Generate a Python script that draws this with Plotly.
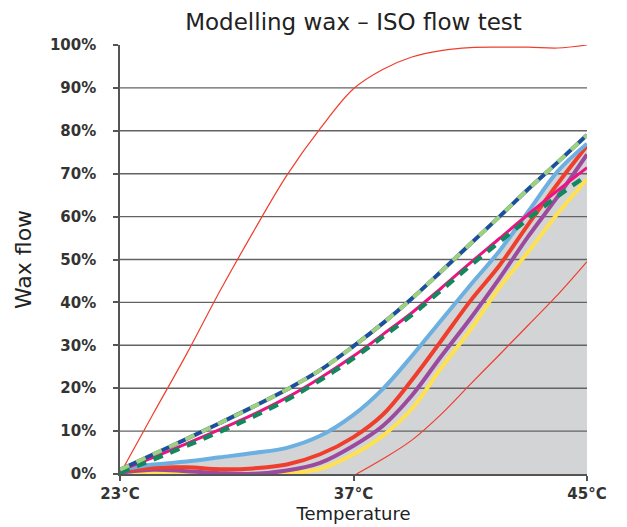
import plotly.graph_objects as go

# ---- data ----
temps = [23, 25, 27, 29, 31, 33, 35, 37, 38, 39, 40, 41, 42, 43, 44, 45]

light_blue = [1.0, 2.2, 2.9, 3.9, 4.9, 6.1, 8.9, 13.8, 19.8, 27.5, 35.8, 44.0, 52.0, 61.3, 70.6, 77.0]
red_thick = [0.7, 1.45, 1.55, 1.1, 1.3, 2.2, 4.6, 8.6, 13.8, 21.9, 31.0, 40.3, 48.6, 58.3, 67.7, 76.5]
purple = [0.3, 1.0, 0.65, 0.2, 0.05, 0.8, 2.6, 6.6, 11.2, 18.3, 27.4, 36.2, 45.6, 55.5, 64.7, 74.5]
yellow = [0.0, 0.4, 0.3, 0.1, 0.0, 0.2, 1.2, 4.6, 8.9, 15.2, 24.7, 33.6, 43.5, 51.9, 60.8, 68.7]
dark_blue = [1.0, 4.6, 8.2, 11.9, 15.7, 19.7, 24.2, 29.8, 35.1, 40.9, 47.2, 53.6, 60.0, 66.5, 72.7, 79.0]
light_green = dark_blue
magenta = [0.8, 3.9, 7.1, 10.4, 13.9, 17.8, 22.4, 27.5, 32.5, 37.6, 43.3, 49.2, 54.9, 60.6, 66.1, 71.4]
dark_green = [0.3, 3.4, 6.6, 9.9, 13.4, 17.3, 21.9, 27.0, 32.0, 37.1, 42.8, 48.6, 54.1, 59.6, 64.8, 69.6]
thin_red_fast = [0, 14.1, 28.0, 42.7, 56.5, 69.6, 80.5, 89.8, 94.3, 97.2, 98.7, 99.4, 99.5, 99.5, 99.3, 100]

temps_late = [37.1, 38, 39, 40, 41, 42, 43, 44, 45]
thin_red_late = [0, 3.5, 7.9, 13.9, 20.9, 27.8, 34.8, 41.8, 49.5]

tick_temps = [23, 37, 45]
tick_text = ["23°C", "37°C", "45°C"]
y_ticks = [0, 10, 20, 30, 40, 50, 60, 70, 80, 90, 100]
grid_vals = [10, 20, 30, 40, 50, 60, 70, 80, 90]


def xpos(t):
    # the temperature axis is drawn with evenly spaced 23 / 37 / 45 marks
    return (t - 23) / 14 if t <= 37 else 1 + (t - 37) / 8


def xs(ts):
    return [xpos(t) for t in ts]


fig = go.Figure()

# grey area under the light-blue curve
fig.add_trace(go.Scatter(x=xs(temps), y=light_blue, mode="lines", line=dict(width=0, shape="spline"),
                         fill="tozeroy", fillcolor="#d3d4d6", hoverinfo="skip", showlegend=False))

# grid lines (drawn above the grey area, below the curves)
gx, gy = [], []
for v in grid_vals:
    gx += [xpos(23), xpos(45), None]
    gy += [v, v, None]
fig.add_trace(go.Scatter(x=gx, y=gy, mode="lines", line=dict(color="#636363", width=1.4),
                         hoverinfo="skip", showlegend=False))


def add_line(ts, vals, color, width, dash=None):
    fig.add_trace(go.Scatter(x=xs(ts), y=vals, mode="lines",
                             line=dict(color=color, width=width, shape="spline", dash=dash),
                             showlegend=False))


add_line(temps, thin_red_fast, "#ef3e2d", 1.2)
add_line(temps_late, thin_red_late, "#ef3e2d", 1.2)
add_line(temps, yellow, "#ffe14f", 4)
add_line(temps, purple, "#9c4a9e", 4)
add_line(temps, red_thick, "#ef3e2d", 4)
add_line(temps, light_blue, "#6cb0e2", 4)
add_line(temps, magenta, "#ec1384", 3)
add_line(temps, dark_green, "#14875c", 4.5, "10px,8px")
add_line(temps, dark_blue, "#1c4f9c", 4)
add_line(temps, light_green, "#9fd07f", 4, "10px,8px")

font_ticks = dict(family="DejaVu Sans", size=15, color="#333333", weight="bold")

fig.update_layout(
    width=619, height=519,
    margin=dict(l=112, r=40, t=37, b=51),
    paper_bgcolor="white", plot_bgcolor="white",
    title=dict(text="Modelling wax – ISO flow test", x=(112 + 579) / 2 / 619, xanchor="center",
               y=1 - 14 / 519, yanchor="middle",
               font=dict(family="DejaVu Sans", size=23, color="#222222")),
    xaxis=dict(range=[0, 2], tickvals=xs(tick_temps), ticktext=tick_text, showgrid=False,
               zeroline=False, showline=True, linecolor="#555555", linewidth=1.5,
               ticks="outside", ticklen=5, tickcolor="#555555", tickwidth=1.5,
               tickfont=font_ticks,
               title=dict(text="Temperature", standoff=0,
                          font=dict(family="DejaVu Sans", size=18, color="#222222"))),
    yaxis=dict(range=[0, 100], tickvals=y_ticks, ticktext=[f"{v}%" for v in y_ticks],
               showgrid=False, zeroline=False, showline=True, linecolor="#555555", linewidth=1.5,
               ticks="outside", ticklen=5, tickcolor="#555555", tickwidth=1.5,
               tickfont=font_ticks, ticklabelstandoff=14,
               title=dict(text="Wax flow", standoff=12,
                          font=dict(family="DejaVu Sans", size=22, color="#222222"))),
)

fig.write_html("out.html")
